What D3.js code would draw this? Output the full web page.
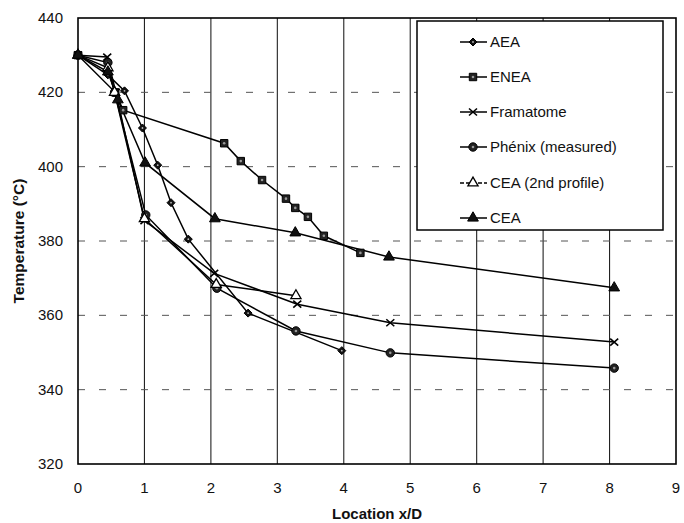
<!DOCTYPE html>
<html>
<head>
<meta charset="utf-8">
<script src="https://cdn.jsdelivr.net/npm/d3@7"></script>
<style>
  body { margin: 0; background: #fff; }
  text { font-family: "Liberation Sans", Arial, sans-serif; fill: #111; }
</style>
</head>
<body>
<svg width="684" height="523"></svg>
<script>
// data: [x/D, temperature °C]
var aea       = [[0,430],[0.45,424.7],[0.7,420.4],[0.97,410.4],[1.2,400.4],[1.4,390.3],[1.66,380.5],[2.56,360.6],[3.97,350.5]];
var enea      = [[0,430],[0.56,420],[0.68,415.2],[2.2,406.3],[2.45,401.5],[2.77,396.4],[3.13,391.4],[3.27,388.9],[3.46,386.5],[3.7,381.4],[4.25,376.8]];
var framatome = [[0,430],[0.44,429.5],[0.57,420],[1.0,385.5],[2.05,371.3],[3.3,363],[4.7,358],[8.07,352.8]];
var phenix    = [[0,430],[0.45,428],[0.55,420],[1.02,387],[2.09,367.3],[3.28,355.8],[4.7,349.9],[8.07,345.8]];
var cea2      = [[0,430],[0.45,426.6],[0.55,420],[1.0,386],[2.08,368.3],[3.28,365.3]];
var cea       = [[0,430],[0.45,425.5],[0.6,418],[1.01,401],[2.06,386],[3.27,382.2],[4.68,375.7],[8.07,367.4]];

var legendNames = ["AEA", "ENEA", "Framatome", "Phénix (measured)", "CEA (2nd profile)", "CEA"];
var markerTypes = ["diamond", "square", "x", "circle", "opentri", "tri"];
var allSeries = [aea, enea, framatome, phenix, cea2, cea];

var xTicks = [0,1,2,3,4,5,6,7,8,9];
var yTicks = [320,340,360,380,400,420,440];

var svg = d3.select("svg");
var x = d3.scaleLinear().domain([0, 9]).range([78, 676]);
var y = d3.scaleLinear().domain([320, 440]).range([464, 18]);

// grid
svg.append("g").selectAll("line")
    .data(xTicks.slice(1, -1))
    .enter().append("line")
    .attr("x1", function(d) { return x(d); })
    .attr("x2", function(d) { return x(d); })
    .attr("y1", y(440)).attr("y2", y(320))
    .attr("stroke", "#222").attr("stroke-width", 1.1);

svg.append("g").selectAll("line")
    .data(yTicks.slice(1, -1))
    .enter().append("line")
    .attr("x1", x(0)).attr("x2", x(9))
    .attr("y1", function(d) { return y(d); })
    .attr("y2", function(d) { return y(d); })
    .attr("stroke", "#555").attr("stroke-width", 1)
    .attr("stroke-dasharray", "7,14");

// frame
svg.append("rect")
    .attr("x", x(0)).attr("y", y(440))
    .attr("width", x(9) - x(0)).attr("height", y(320) - y(440))
    .attr("fill", "none").attr("stroke", "#000").attr("stroke-width", 1.6);

// tick labels
svg.append("g").selectAll("text")
    .data(yTicks)
    .enter().append("text")
    .attr("x", 63)
    .attr("y", function(d) { return y(d) + 5; })
    .attr("text-anchor", "end")
    .style("font-size", "15px")
    .text(function(d) { return d; });

svg.append("g").selectAll("text")
    .data(xTicks)
    .enter().append("text")
    .attr("x", function(d) { return x(d); })
    .attr("y", 493)
    .attr("text-anchor", "middle")
    .style("font-size", "15px")
    .text(function(d) { return d; });

// axis titles
svg.append("text")
    .attr("x", x(4.5)).attr("y", 519)
    .attr("text-anchor", "middle")
    .style("font-size", "15px").style("font-weight", "bold")
    .text("Location x/D");

svg.append("text")
    .attr("transform", "translate(24," + y(380) + ") rotate(-90)")
    .attr("text-anchor", "middle")
    .style("font-size", "15.5px").style("font-weight", "bold")
    .text("Temperature (°C)");

function drawMarker(g, type) {
  if (type == "diamond") {
    g.append("path").attr("d", "M0,-4L4,0L0,4L-4,0Z")
      .attr("fill", "#111").attr("stroke", "#000");
    g.append("circle").attr("r", 0.9).attr("fill", "#bbb");
  } else if (type == "square") {
    g.append("path").attr("d", d3.symbol(d3.symbolSquare, 55)())
      .attr("fill", "#222").attr("stroke", "#000");
    g.append("circle").attr("r", 1.3).attr("fill", "#999");
  } else if (type == "x") {
    g.append("path").attr("d", "M-4,-3.5L4,3.5M-4,3.5L4,-3.5")
      .attr("stroke", "#000").attr("stroke-width", 1.6);
  } else if (type == "circle") {
    g.append("circle").attr("r", 4.2).attr("fill", "#222").attr("stroke", "#000");
    g.append("circle").attr("r", 1.3).attr("fill", "#999");
  } else if (type == "opentri") {
    g.append("path").attr("d", d3.symbol(d3.symbolTriangle, 45)())
      .attr("fill", "#fff").attr("stroke", "#000").attr("stroke-width", 1.3);
  } else {
    g.append("path").attr("d", d3.symbol(d3.symbolTriangle, 50)())
      .attr("fill", "#111").attr("stroke", "#000");
  }
}

var line = d3.line()
    .x(function(d) { return x(d[0]); })
    .y(function(d) { return y(d[1]); });

allSeries.forEach(function(s, i) {
  svg.append("path")
    .datum(s)
    .attr("d", line)
    .attr("fill", "none")
    .attr("stroke", "#000")
    .attr("stroke-width", 1.5);
});

allSeries.forEach(function(s, i) {
  svg.append("g").selectAll("g")
    .data(s)
    .enter().append("g")
    .attr("transform", function(d) { return "translate(" + x(d[0]) + "," + y(d[1]) + ")"; })
    .each(function() { drawMarker(d3.select(this), markerTypes[i]); });
});

// legend
var legend = svg.append("g");
legend.append("rect")
    .attr("x", 417).attr("y", 21)
    .attr("width", 246).attr("height", 209)
    .attr("fill", "#fff").attr("stroke", "#000").attr("stroke-width", 1.5);

var rows = [42, 77, 112, 147, 183, 218];
legendNames.forEach(function(name, i) {
  var row = legend.append("g").attr("transform", "translate(0," + rows[i] + ")");
  row.append("line")
    .attr("x1", 460).attr("x2", 487)
    .attr("stroke", "#000").attr("stroke-width", 1.5)
    .attr("stroke-dasharray", markerTypes[i] == "opentri" ? "4,2" : null);
  var m = row.append("g").attr("transform", "translate(473,0)");
  drawMarker(m, markerTypes[i]);
  row.append("text")
    .attr("x", 490).attr("y", 5)
    .style("font-size", "15px")
    .text(name);
});
</script>
</body>
</html>
